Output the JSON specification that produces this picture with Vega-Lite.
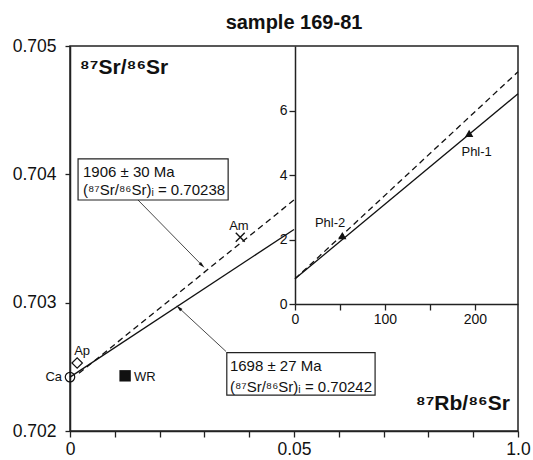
{
  "$schema": "https://vega.github.io/schema/vega-lite/v6.json",
  "width": 448,
  "height": 385,
  "autosize": "none",
  "padding": {"left": 70, "top": 46, "right": 15, "bottom": 29},
  "title": {"text": "sample 169-81", "fontSize": 20, "fontWeight": "bold", "font": "Liberation Sans", "color": "#111", "offset": 4, "anchor": "middle"},
  "config": {
    "view": {"stroke": "#222", "strokeWidth": 1.5},
    "axis": {"grid": false, "domainColor": "#222", "domainWidth": 1.5, "tickColor": "#222", "tickWidth": 1.3, "labelFont": "Liberation Sans", "labelColor": "#111", "labelFlush": false, "labelOverlap": false},
    "text": {"font": "Liberation Sans", "color": "#111"}
  },
  "datasets": {
    "mainPoints": [
      {"name": "Ca", "x": 0, "y": 0.70242},
      {"name": "Ap", "x": 0.0016, "y": 0.70253},
      {"name": "WR", "x": 0.0123, "y": 0.70243},
      {"name": "Am", "x": 0.0380, "y": 0.70351}
    ],
    "mainIsochrons": [
      {"age": "1698 Ma", "x": 0, "y": 0.70242, "x2": 0.05, "y2": 0.70357},
      {"age": "1906 Ma", "x": 0.002, "y": 0.70245, "x2": 0.05, "y2": 0.70380}
    ],
    "labels": [
      {"name": "Ca", "x": 0, "y": 0.70242},
      {"name": "Ap", "x": 0.0027, "y": 0.70262},
      {"name": "WR", "x": 0.0143, "y": 0.70242},
      {"name": "Am", "x": 0.0377, "y": 0.70360}
    ],
    "boxes": [
      {"age": "1906 Ma", "x": 0.0018, "x2": 0.0353, "y": 0.70412, "y2": 0.70380},
      {"age": "1698 Ma", "x": 0.0350, "x2": 0.0681, "y": 0.70261, "y2": 0.70228}
    ],
    "boxText": [
      {"line": "1906 ± 30 Ma", "x": 0.0029, "y": 0.70402},
      {"line": "(⁸⁷Sr/⁸⁶Sr)ᵢ = 0.70238", "x": 0.0029, "y": 0.70388},
      {"line": "1698 ± 27 Ma", "x": 0.0357, "y": 0.70251},
      {"line": "(⁸⁷Sr/⁸⁶Sr)ᵢ = 0.70242", "x": 0.0357, "y": 0.70234}
    ],
    "arrows": [
      {"age": "1906 Ma", "x": 0.01518, "y": 0.70380, "x2": 0.02950, "y2": 0.70329, "angle": 134},
      {"age": "1698 Ma", "x": 0.03482, "y": 0.70262, "x2": 0.02430, "y2": 0.70296, "angle": 314}
    ],
    "axisTitles": [
      {"t": "⁸⁷Sr/⁸⁶Sr", "x": 0.0022, "y": 0.70483, "side": "left"},
      {"t": "⁸⁷Rb/⁸⁶Sr", "x": 0.0982, "y": 0.70221, "side": "right"}
    ],
    "insetPoints": [
      {"name": "Phl-1", "x": 193.7, "y": 5.29},
      {"name": "Phl-2", "x": 52.6, "y": 2.12}
    ],
    "insetLabels": [
      {"name": "Phl-1", "x": 202, "y": 4.71},
      {"name": "Phl-2", "x": 39, "y": 2.51}
    ],
    "insetIsochrons": [
      {"age": "1698 Ma", "x": 0, "y": 0.78, "x2": 248, "y2": 6.52},
      {"age": "1906 Ma", "x": 0, "y": 0.78, "x2": 248, "y2": 7.2}
    ]
  },
  "layer": [
    {
      "encoding": {
        "x": {"field": "x", "type": "quantitative", "title": null,
          "scale": {"domain": [0, 0.1], "nice": false, "zero": false},
          "axis": {"orient": "bottom", "values": [0, 0.01, 0.02, 0.03, 0.04, 0.05, 0.06, 0.07, 0.08, 0.09, 0.1],
            "labelExpr": "datum.value == 0 ? '0' : datum.value == 0.05 ? '0.05' : datum.value == 0.1 ? '1.0' : ''",
            "tickSize": 6, "labelFontSize": 17.5, "labelPadding": 3}},
        "y": {"field": "y", "type": "quantitative", "title": null,
          "scale": {"domain": [0.702, 0.705], "nice": false, "zero": false},
          "axis": {"orient": "left", "values": [0.702, 0.703, 0.704, 0.705], "format": ".3f",
            "tickSize": 5, "labelFontSize": 17.5, "labelPadding": 9}}
      },
      "layer": [
        {
          "data": {"name": "mainIsochrons"},
          "transform": [{"filter": "datum.age == '1698 Ma'"}],
          "mark": {"type": "rule", "color": "#111", "strokeWidth": 1.3},
          "encoding": {"x2": {"field": "x2"}, "y2": {"field": "y2"}}
        },
        {
          "data": {"name": "mainIsochrons"},
          "transform": [{"filter": "datum.age == '1906 Ma'"}],
          "mark": {"type": "rule", "color": "#111", "strokeWidth": 1.3, "strokeDash": [6, 4]},
          "encoding": {"x2": {"field": "x2"}, "y2": {"field": "y2"}}
        },
        {
          "data": {"name": "arrows"},
          "mark": {"type": "rule", "color": "#333", "strokeWidth": 0.9},
          "encoding": {"x2": {"field": "x2"}, "y2": {"field": "y2"}}
        },
        {
          "data": {"name": "arrows"},
          "mark": {"type": "point", "shape": "M0,-1L0.5,1L-0.5,1Z", "filled": true, "color": "#111", "size": 45, "opacity": 1},
          "encoding": {"x": {"field": "x2", "type": "quantitative"}, "y": {"field": "y2", "type": "quantitative"}, "angle": {"field": "angle", "type": "quantitative", "scale": null}}
        },
        {
          "data": {"name": "boxes"},
          "mark": {"type": "rect", "fill": "white", "stroke": "#222", "strokeWidth": 1.2},
          "encoding": {"x2": {"field": "x2"}, "y2": {"field": "y2"}}
        },
        {
          "data": {"name": "boxText"},
          "mark": {"type": "text", "align": "left", "baseline": "middle", "fontSize": 15},
          "encoding": {"text": {"field": "line"}}
        },
        {
          "data": {"name": "mainPoints"},
          "transform": [{"filter": "datum.name == 'Ca'"}],
          "mark": {"type": "point", "shape": "circle", "filled": false, "color": "#111", "strokeWidth": 1.2, "size": 90, "opacity": 1}
        },
        {
          "data": {"name": "mainPoints"},
          "transform": [{"filter": "datum.name == 'Ap'"}],
          "mark": {"type": "point", "shape": "diamond", "filled": false, "color": "#111", "strokeWidth": 1.2, "size": 110, "opacity": 1}
        },
        {
          "data": {"name": "mainPoints"},
          "transform": [{"filter": "datum.name == 'WR'"}],
          "mark": {"type": "point", "shape": "square", "filled": true, "color": "#111", "size": 130, "opacity": 1}
        },
        {
          "data": {"name": "mainPoints"},
          "transform": [{"filter": "datum.name == 'Am'"}],
          "mark": {"type": "point", "shape": "M-1,-1L1,1M-1,1L1,-1", "filled": false, "color": "#111", "strokeWidth": 1.4, "size": 80, "opacity": 1}
        },
        {
          "data": {"name": "labels"},
          "transform": [{"filter": "datum.name == 'Ca'"}],
          "mark": {"type": "text", "align": "right", "baseline": "middle", "fontSize": 13, "dx": -8},
          "encoding": {"text": {"field": "name"}}
        },
        {
          "data": {"name": "labels"},
          "transform": [{"filter": "datum.name == 'WR'"}],
          "mark": {"type": "text", "align": "left", "baseline": "middle", "fontSize": 13},
          "encoding": {"text": {"field": "name"}}
        },
        {
          "data": {"name": "labels"},
          "transform": [{"filter": "datum.name == 'Ap' || datum.name == 'Am'"}],
          "mark": {"type": "text", "align": "center", "baseline": "middle", "fontSize": 13},
          "encoding": {"text": {"field": "name"}}
        },
        {
          "data": {"name": "axisTitles"},
          "transform": [{"filter": "datum.side == 'left'"}],
          "mark": {"type": "text", "align": "left", "baseline": "middle", "fontSize": 21, "fontWeight": "bold"},
          "encoding": {"text": {"field": "t"}}
        },
        {
          "data": {"name": "axisTitles"},
          "transform": [{"filter": "datum.side == 'right'"}],
          "mark": {"type": "text", "align": "right", "baseline": "middle", "fontSize": 21, "fontWeight": "bold"},
          "encoding": {"text": {"field": "t"}}
        }
      ]
    },
    {
      "encoding": {
        "x": {"field": "x", "type": "quantitative", "title": null,
          "scale": {"domain": [0, 248], "range": [225, 448], "nice": false, "zero": false},
          "axis": {"orient": "bottom", "offset": -127, "values": [0, 50, 100, 150, 200],
            "labelExpr": "datum.value == 50 || datum.value == 150 ? '' : datum.label",
            "tickSize": 6, "labelFontSize": 14, "labelPadding": 2}},
        "y": {"field": "y", "type": "quantitative", "title": null,
          "scale": {"domain": [0, 8], "range": [258, 0], "nice": false, "zero": false},
          "axis": {"orient": "left", "offset": -225, "values": [0, 2, 4, 6],
            "tickSize": 6, "labelFontSize": 14, "labelPadding": 2}}
      },
      "layer": [
        {
          "data": {"name": "insetIsochrons"},
          "transform": [{"filter": "datum.age == '1698 Ma'"}],
          "mark": {"type": "rule", "color": "#111", "strokeWidth": 1.3},
          "encoding": {"x2": {"field": "x2"}, "y2": {"field": "y2"}}
        },
        {
          "data": {"name": "insetIsochrons"},
          "transform": [{"filter": "datum.age == '1906 Ma'"}],
          "mark": {"type": "rule", "color": "#111", "strokeWidth": 1.3, "strokeDash": [6, 4]},
          "encoding": {"x2": {"field": "x2"}, "y2": {"field": "y2"}}
        },
        {
          "data": {"name": "insetPoints"},
          "mark": {"type": "point", "shape": "triangle-up", "filled": true, "color": "#111", "size": 70, "opacity": 1}
        },
        {
          "data": {"name": "insetLabels"},
          "mark": {"type": "text", "align": "center", "baseline": "middle", "fontSize": 13},
          "encoding": {"text": {"field": "name"}}
        }
      ]
    }
  ],
  "resolve": {"scale": {"x": "independent", "y": "independent"}, "axis": {"x": "independent", "y": "independent"}}
}
